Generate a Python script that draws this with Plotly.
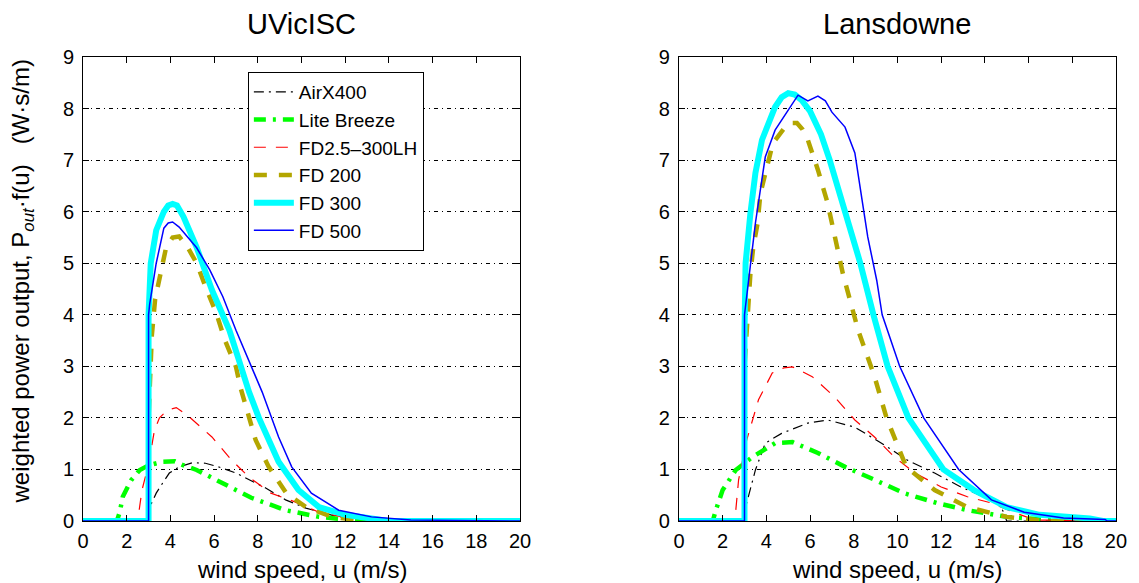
import plotly.graph_objects as go

# ---------------- data ----------------
ticks_x = [0, 2, 4, 6, 8, 10, 12, 14, 16, 18, 20]
ticks_y = [0, 1, 2, 3, 4, 5, 6, 7, 8, 9]
panel_titles = ["UVicISC", "Lansdowne"]
names = ["AirX400", "Lite Breeze", "FD2.5\u2013300LH", "FD 200", "FD 300", "FD 500"]

# UVicISC
u_air_L = [0, 2.9, 3.14, 3.35, 3.65, 3.95, 4.4, 5.0, 5.6, 6.2, 7.0, 8.36, 9.27, 10.2, 11.5, 13, 20]
p_air_L = [0, 0, 0.35, 0.54, 0.74, 0.93, 1.05, 1.13, 1.12, 1.05, 0.93, 0.64, 0.41, 0.25, 0.1, 0.02, 0]
u_lb_L = [0, 1.55, 1.68, 1.82, 2.2, 2.6, 3.0, 3.64, 4.2, 4.55, 5.2, 6.4, 7.7, 9.27, 10.8, 12.5, 20]
p_lb_L = [0, 0, 0.17, 0.47, 0.79, 0.99, 1.08, 1.15, 1.16, 1.09, 0.99, 0.74, 0.45, 0.21, 0.08, 0.01, 0]
u_fd25_L = [0, 2.5, 2.7, 3.0, 3.14, 3.27, 3.5, 3.86, 4.27, 4.86, 5.9, 6.8, 7.6, 8.6, 9.7, 10.8, 12, 13.5, 20]
p_fd25_L = [0, 0, 0.6, 1.1, 1.44, 1.76, 2.0, 2.15, 2.2, 2.02, 1.63, 1.18, 0.85, 0.54, 0.37, 0.17, 0.07, 0.02, 0]
u_fd200_L = [0, 3, 3, 3.15, 3.3, 3.5, 3.8, 4.1, 4.4, 4.8, 5.2, 5.6, 6.1, 6.5, 7.0, 7.2, 7.9, 8.5, 9.3, 10.2, 11.4, 12.6, 13.5, 20]
p_fd200_L = [0, 0, 2.0, 3.6, 4.3, 4.73, 5.3, 5.5, 5.52, 5.3, 5.0, 4.55, 4.03, 3.5, 2.99, 2.6, 1.57, 1.05, 0.54, 0.27, 0.08, 0.02, 0, 0]
u_fd300_L = [0, 3, 3, 3.1, 3.35, 3.7, 3.9, 4.1, 4.3, 4.6, 5.2, 5.9, 6.7, 7.3, 7.6, 8.05, 8.95, 9.86, 10.8, 12, 13.2, 14, 20]
p_fd300_L = [0, 0, 4.0, 5.0, 5.64, 6.0, 6.12, 6.15, 6.12, 5.9, 5.31, 4.48, 3.7, 2.85, 2.5, 2.0, 1.15, 0.6, 0.27, 0.12, 0.05, 0, 0]
u_fd500_L = [0, 3, 3, 3.05, 3.35, 3.7, 3.9, 4.1, 4.4, 4.7, 5.2, 5.8, 6.4, 7.0, 7.7, 8.2, 8.95, 9.55, 10.45, 11.7, 13.2, 15, 20]
p_fd500_L = [0, 0, 4.0, 4.2, 5.0, 5.68, 5.78, 5.8, 5.7, 5.55, 5.3, 4.87, 4.35, 3.7, 2.98, 2.5, 1.63, 1.05, 0.54, 0.21, 0.08, 0.02, 0]

# Lansdowne
u_air_R = [0, 2.9, 3.1, 3.5, 3.95, 4.7, 5.9, 6.8, 8.05, 9.27, 10.45, 11.7, 12.9, 14.3, 14.7, 15.0, 20]
p_air_R = [0, 0, 0.35, 0.99, 1.51, 1.7, 1.9, 1.96, 1.82, 1.51, 1.18, 0.93, 0.66, 0.41, 0.33, 0, 0]
u_lb_R = [0, 1.55, 1.68, 2.0, 2.6, 3.36, 4.4, 5.2, 6.36, 7.6, 8.95, 10.3, 11.8, 13.2, 15.0, 17, 20]
p_lb_R = [0, 0, 0.2, 0.6, 0.99, 1.24, 1.51, 1.53, 1.32, 1.05, 0.8, 0.54, 0.35, 0.21, 0.08, 0.02, 0]
u_fd25_R = [0, 2.5, 2.6, 2.73, 3.1, 3.64, 4.27, 4.8, 5.2, 6.1, 7.14, 8.05, 8.95, 9.86, 10.8, 12.0, 13.2, 14.3, 15.3, 16.3, 20]
p_fd25_R = [0, 0, 0.2, 0.8, 1.57, 2.35, 2.87, 2.97, 2.99, 2.8, 2.4, 1.96, 1.63, 1.24, 0.93, 0.66, 0.47, 0.35, 0.17, 0.02, 0]
u_fd200_R = [0, 3, 3, 3.1, 3.27, 3.4, 3.6, 3.73, 4.05, 4.3, 4.86, 5.1, 5.4, 5.65, 5.9, 6.36, 6.8, 7.27, 7.5, 8.2, 8.95, 9.5, 10.4, 11.7, 13.2, 15.0, 16.8, 20]
p_fd200_R = [0, 0, 3.0, 3.7, 4.8, 5.31, 5.78, 6.36, 6.87, 7.33, 7.64, 7.72, 7.72, 7.6, 7.39, 6.81, 6.17, 5.31, 4.8, 3.7, 2.8, 2.0, 1.05, 0.6, 0.27, 0.08, 0, 0]
u_fd300_R = [0, 3, 3, 3.05, 3.27, 3.5, 3.8, 4.4, 4.7, 5.0, 5.3, 5.6, 6.0, 6.5, 6.9, 7.6, 8.3, 8.9, 9.55, 10.5, 12.1, 13.5, 15, 16.5, 18.8, 19.4, 20]
p_fd300_R = [0, 0, 3.7, 5.0, 5.97, 6.75, 7.39, 8.03, 8.22, 8.3, 8.27, 8.17, 7.95, 7.5, 7.0, 6.0, 5.0, 4.0, 3.0, 2.0, 1.0, 0.6, 0.27, 0.12, 0.05, 0, 0]
u_fd500_R = [0, 3, 3, 3.2, 3.5, 3.95, 4.4, 5.0, 5.45, 5.9, 6.36, 6.7, 7.0, 7.6, 8.05, 8.36, 8.64, 9.05, 9.3, 10.1, 11.2, 12.8, 14.3, 15.8, 17.6, 19.5, 19.6, 20]
p_fd500_R = [0, 0, 4.0, 4.67, 5.78, 7.06, 7.58, 7.97, 8.26, 8.15, 8.24, 8.15, 7.93, 7.64, 7.14, 6.28, 5.51, 4.67, 4.0, 3.0, 2.0, 1.0, 0.41, 0.17, 0.06, 0.03, 0, 0]

# ---------------- styles ----------------
styles = [
    dict(color="#000000", width=1.2, dash="10px,5px,2px,5px"),
    dict(color="#00ff00", width=4.5, dash="12px,7px,3px,7px"),
    dict(color="#ff0000", width=1.2, dash="12px,10px"),
    dict(color="#b3a600", width=4.5, dash="13px,12px"),
    dict(color="#00ffff", width=6, dash="solid"),
    dict(color="#0000ff", width=1.5, dash="solid"),
]

left = [(u_air_L, p_air_L), (u_lb_L, p_lb_L), (u_fd25_L, p_fd25_L),
        (u_fd200_L, p_fd200_L), (u_fd300_L, p_fd300_L), (u_fd500_L, p_fd500_L)]
right = [(u_air_R, p_air_R), (u_lb_R, p_lb_R), (u_fd25_R, p_fd25_R),
         (u_fd200_R, p_fd200_R), (u_fd300_R, p_fd300_R), (u_fd500_R, p_fd500_R)]

FONT = "Liberation Sans, Arial, Helvetica, sans-serif"

fig = go.Figure()
for i, (u, p) in enumerate(left):
    fig.add_trace(go.Scatter(x=u, y=p, mode="lines", name=names[i], line=styles[i],
                             xaxis="x", yaxis="y", legendgroup=str(i), showlegend=True))
for i, (u, p) in enumerate(right):
    fig.add_trace(go.Scatter(x=u, y=p, mode="lines", name=names[i], line=styles[i],
                             xaxis="x2", yaxis="y2", legendgroup=str(i), showlegend=False))

axis_common = dict(showline=True, linecolor="black", linewidth=1, mirror="ticks",
                   ticks="inside", ticklen=6, tickcolor="black", tickwidth=1,
                   zeroline=False, tickfont=dict(size=20, color="black", family=FONT))
xax = dict(axis_common, range=[0, 20], tickvals=ticks_x, showgrid=False, ticklabelstandoff=2)
yax = dict(axis_common, range=[0, 9], tickvals=ticks_y, showgrid=True, gridcolor="black",
           gridwidth=1, griddash="4px,4px,1px,4px", ticklabelstandoff=4)

fig.update_layout(
    width=1139, height=583,
    margin=dict(l=83, r=16, t=57, b=62),
    paper_bgcolor="white", plot_bgcolor="white",
    font=dict(family=FONT, color="black"),
    xaxis=dict(xax, domain=[0, 0.4231], anchor="y"),
    yaxis=dict(yax, domain=[0, 1], anchor="x"),
    xaxis2=dict(xax, domain=[0.5769, 1], anchor="y2"),
    yaxis2=dict(yax, domain=[0, 1], anchor="x2"),
    legend=dict(x=0.1596, y=0.9677, xanchor="left", yanchor="top",
                bgcolor="white", bordercolor="black", borderwidth=1,
                font=dict(size=19, family=FONT, color="black"),
                tracegroupgap=0, itemwidth=40),
    showlegend=True,
)

annotations = [
    dict(text=panel_titles[0], x=0.21155, y=1.071, xref="paper", yref="paper",
         showarrow=False, font=dict(size=29, family=FONT), xanchor="center", yanchor="middle"),
    dict(text=panel_titles[1], x=0.78845, y=1.071, xref="paper", yref="paper",
         showarrow=False, font=dict(size=29, family=FONT), xanchor="center", yanchor="middle"),
    dict(text="wind speed, u (m/s)", x=0.21155, y=-0.1056, xref="paper", yref="paper",
         showarrow=False, font=dict(size=24, family=FONT), xanchor="center", yanchor="middle"),
    dict(text="wind speed, u (m/s)", x=0.78845, y=-0.1056, xref="paper", yref="paper",
         showarrow=False, font=dict(size=24, family=FONT), xanchor="center", yanchor="middle"),
    dict(text="weighted power output, P<sub><i>out</i></sub>\u00b7f(u)   (W\u00b7s/m)",
         x=-0.0587, y=0.517, xref="paper", yref="paper", textangle=-90,
         showarrow=False, font=dict(size=24, family=FONT), xanchor="center", yanchor="middle"),
]
fig.update_layout(annotations=annotations)

fig.write_html("out.html")
